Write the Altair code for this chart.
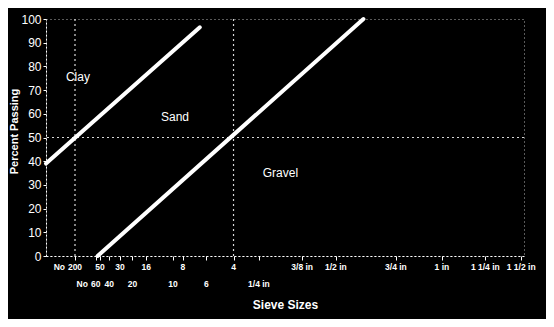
import altair as alt
import pandas as pd

# Gradation chart: x axis is sieve opening (mm) on a 0.45-power scale
top_labels = ["200", "50", "30", "16", "8", "4", "3/8 in", "1/2 in", "3/4 in", "1 in", "1 1/4 in", "1 1/2 in"]
top_mm = [0.075, 0.30, 0.60, 1.18, 2.36, 4.75, 9.5, 12.5, 19.0, 25.0, 31.5, 37.5]
bottom_labels = ["60", "40", "20", "10", "6", "1/4 in"]
bottom_mm = [0.25, 0.425, 0.85, 2.0, 3.35, 6.3]
prefix_mm = [0.075, 0.25]
prefix_row = ["top", "bottom"]

# boundary lines (sieve mm, percent passing)
line_name = ["clay", "clay", "gravel", "gravel"]
line_mm = [0.0, 3.06, 0.27, 15.3]
line_pct = [39.0, 96.5, 0.0, 100.0]

# dotted reference lines
ref_pct = [50]
ref_mm = [0.075, 4.75]

region_labels = ["Clay", "Sand", "Gravel"]
region_mm = [0.093, 2.07, 7.8]
region_pct = [75.5, 58.5, 35.0]

y_ticks = list(range(0, 101, 10))

FONT = "Liberation Sans"
xscale = alt.Scale(type="pow", exponent=0.45, domain=[0, 38], nice=False)
yscale = alt.Scale(domain=[0, 100], nice=False)

x_axis = alt.Axis(values=top_mm + bottom_mm, labels=False, title="Sieve Sizes",
                  tickSize=4, tickColor="white", domainColor="white", domainDash=[2, 2],
                  grid=False, titleFont=FONT, titleFontSize=12, titleFontWeight="bold",
                  titleColor="white", titlePadding=39)
y_axis = alt.Axis(values=y_ticks, title="Percent Passing", grid=False,
                  labelFont=FONT, labelFontSize=12, labelColor="white", labelPadding=2,
                  tickSize=3, tickColor="white", domainColor="white", domainDash=[2, 2],
                  titleFont=FONT, titleFontSize=11, titleFontWeight="bold",
                  titleColor="white", titlePadding=1, titleY=112)


def X():
    return alt.X("mm:Q", scale=xscale, axis=x_axis, title="Sieve Sizes")


def Y():
    return alt.Y("pct:Q", scale=yscale, axis=y_axis, title="Percent Passing")


line_df = pd.DataFrame({"line": line_name, "mm": line_mm, "pct": line_pct})
lines = alt.Chart(line_df).mark_line(color="white", strokeWidth=4, strokeCap="round").encode(
    x=X(), y=Y(), detail="line:N",
)

hrule = alt.Chart(pd.DataFrame({"pct": ref_pct})).mark_rule(
    color="white", strokeDash=[2, 3], strokeWidth=1.2, opacity=0.85
).encode(y=Y())

vrule = alt.Chart(pd.DataFrame({"mm": ref_mm})).mark_rule(
    color="white", strokeDash=[2, 3], strokeWidth=1.2, opacity=0.85
).encode(x=X())

regions = alt.Chart(pd.DataFrame({"label": region_labels, "mm": region_mm, "pct": region_pct})).mark_text(
    color="white", font=FONT, fontSize=12
).encode(x=X(), y=Y(), text="label:N")

top_text = alt.Chart(pd.DataFrame({"label": top_labels, "mm": top_mm})).mark_text(
    color="white", font=FONT, fontSize=8.5, fontWeight="bold", baseline="middle"
).encode(x=X(), y=alt.value(248), text="label:N")

bottom_text = alt.Chart(pd.DataFrame({"label": bottom_labels, "mm": bottom_mm})).mark_text(
    color="white", font=FONT, fontSize=8.5, fontWeight="bold", baseline="middle"
).encode(x=X(), y=alt.value(265), text="label:N")

pre_df = pd.DataFrame({"mm": prefix_mm, "row": prefix_row, "label": ["No", "No"]})
pre_top = alt.Chart(pre_df[pre_df.row == "top"]).mark_text(
    color="white", font=FONT, fontSize=8.5, fontWeight="bold", baseline="middle", align="right", dx=-10
).encode(x=X(), y=alt.value(248), text="label:N")
pre_bottom = alt.Chart(pre_df[pre_df.row == "bottom"]).mark_text(
    color="white", font=FONT, fontSize=8.5, fontWeight="bold", baseline="middle", align="right", dx=-8
).encode(x=X(), y=alt.value(265), text="label:N")

chart = alt.layer(lines, hrule, vrule, regions, top_text, bottom_text, pre_top, pre_bottom).properties(
    width=478, height=237,
    autosize=alt.AutoSizeParams(type="none"),
    padding={"left": 38, "top": 11, "right": 22, "bottom": 63},
    background="black",
).configure_view(stroke="white", strokeDash=[1, 3], strokeOpacity=0.7)

chart.save("out.html", embed_options={"renderer": "svg", "actions": False})
